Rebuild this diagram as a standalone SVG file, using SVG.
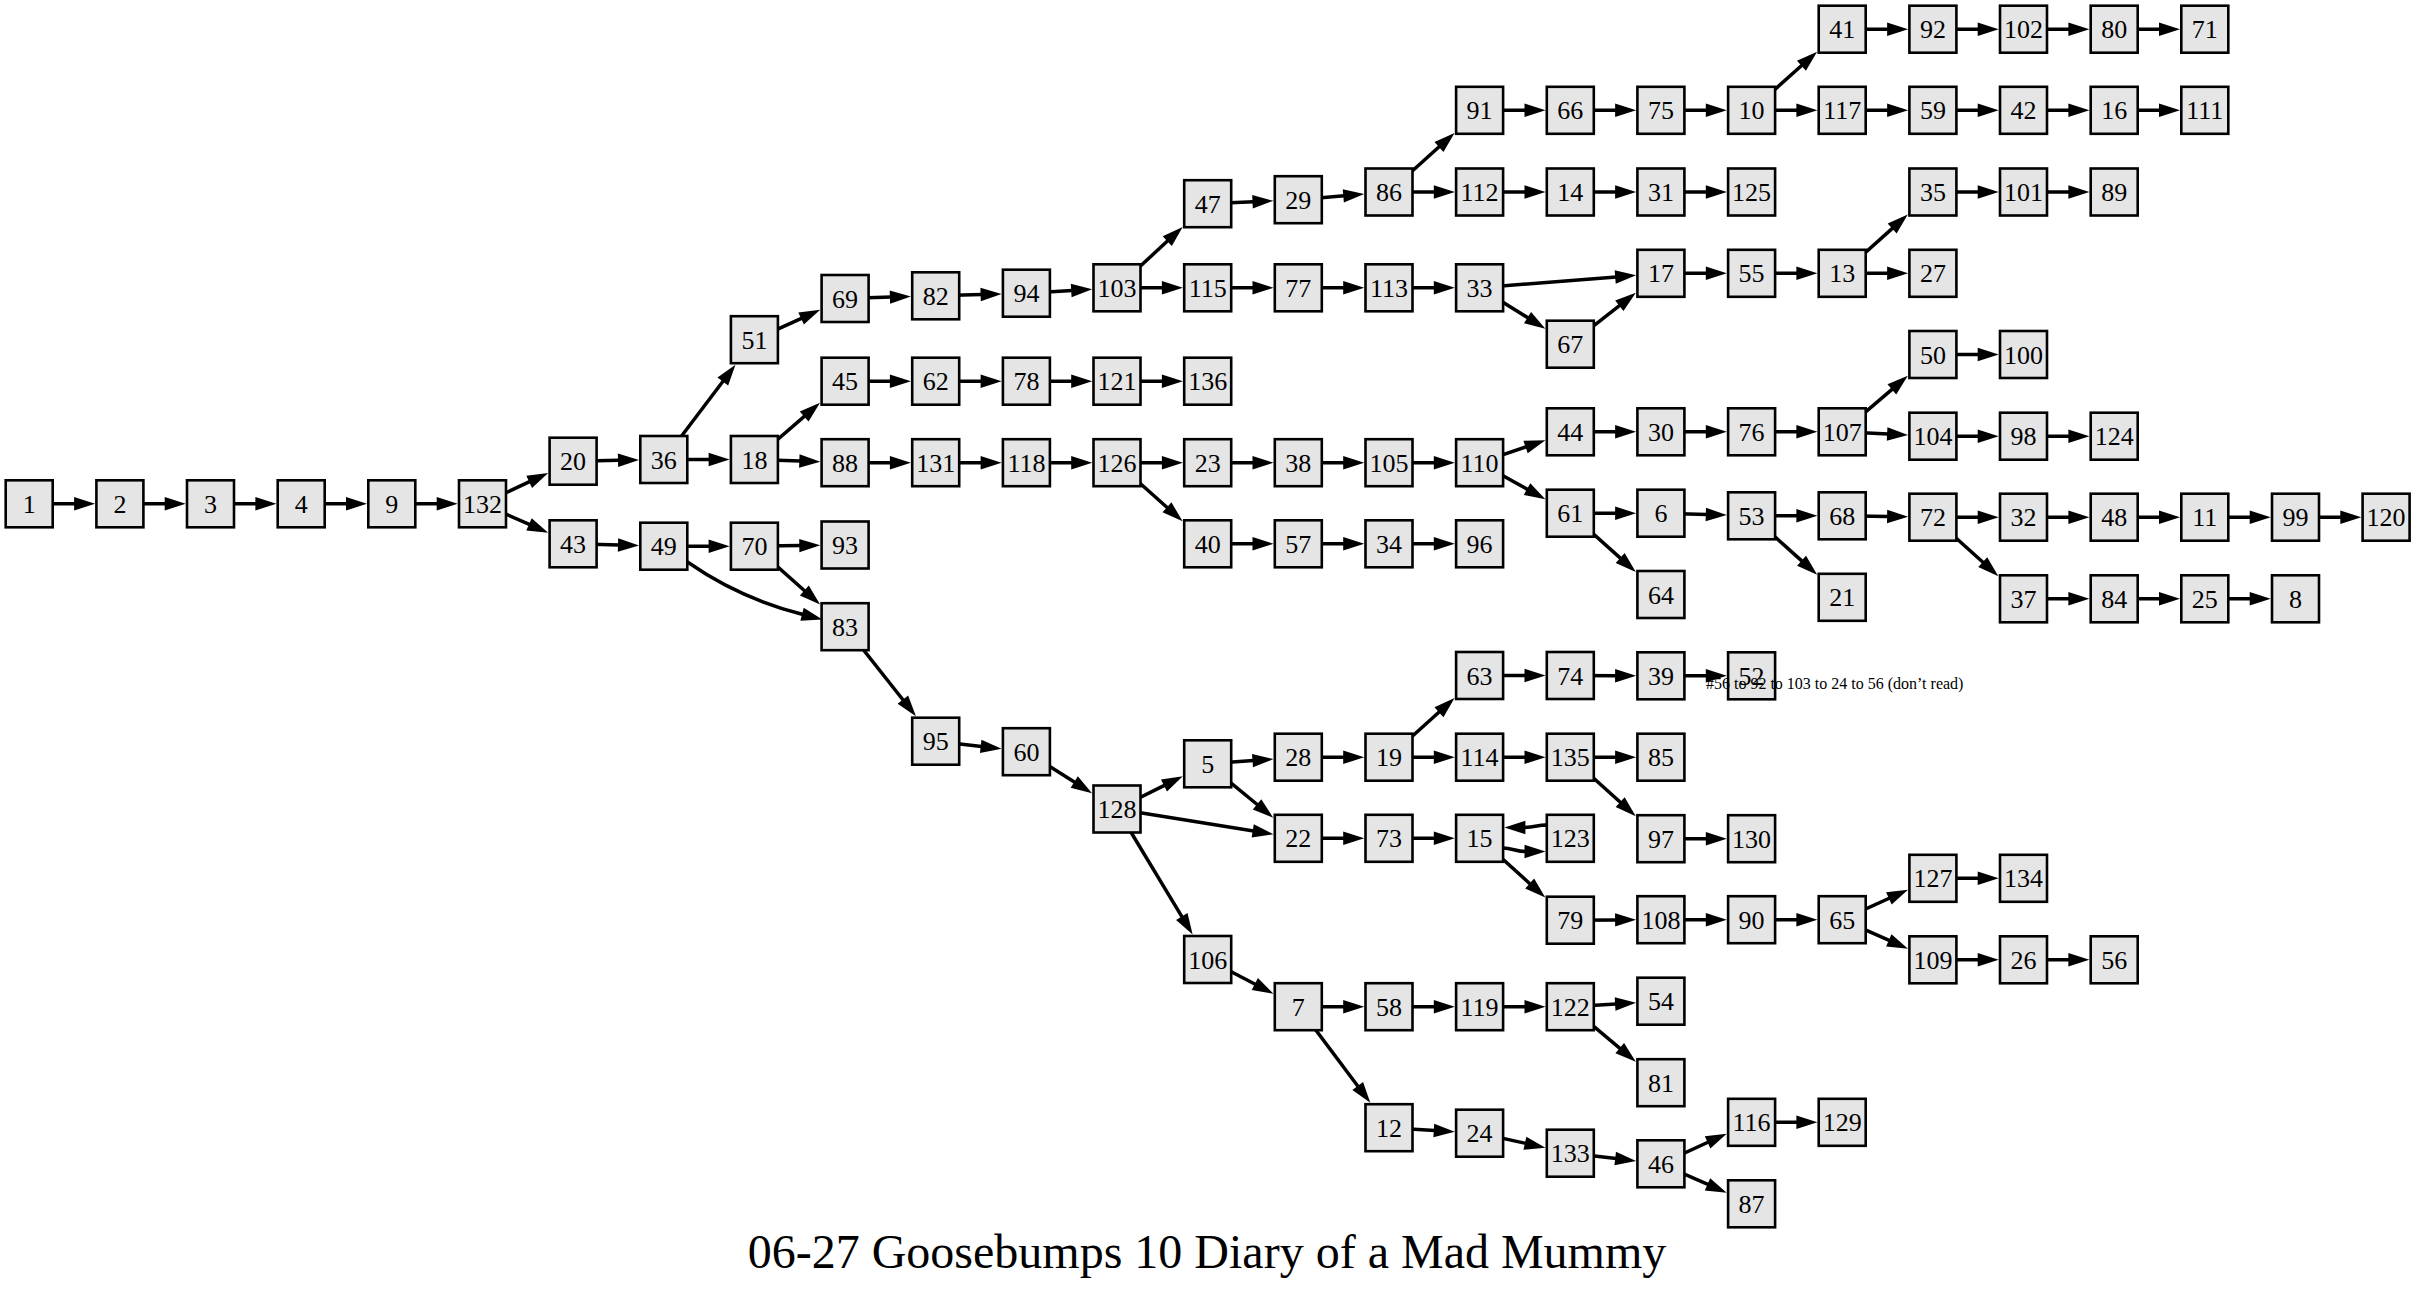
<svg xmlns="http://www.w3.org/2000/svg" width="2416" height="1292" viewBox="0 0 2416 1292">
<style>
.node rect{fill:#e5e5e5;stroke:#000;stroke-width:2.6}
.node text{font-family:"Liberation Serif","Times New Roman",serif;font-size:26px;text-anchor:middle;fill:#000}
.edges path{fill:none;stroke:#000;stroke-width:3.5;marker-end:url(#ah)}
.node text.xl{font-family:"Liberation Serif","Times New Roman",serif;font-size:16px;text-anchor:middle;fill:#000}
.title{font-family:"Liberation Serif","Times New Roman",serif;font-size:48px;text-anchor:middle;fill:#000}
</style>
<defs>
<marker id="ah" markerUnits="userSpaceOnUse" markerWidth="21" markerHeight="13.4" viewBox="0 0 21 13.4" refX="1" refY="6.7" orient="auto" overflow="visible"><path d="M0,0 L21,6.7 L0,13.4 z" fill="#000"/></marker>
</defs>
<rect width="2416" height="1292" fill="#fff"/>
<g id="edges" class="edges">
<path d="M29.2,503.8 L75.1,503.8"/>
<path d="M119.9,503.8 L165.7,503.8"/>
<path d="M210.5,503.8 L256.4,503.8"/>
<path d="M301.2,503.8 L347.0,503.8"/>
<path d="M391.8,503.8 L437.7,503.8"/>
<path d="M482.5,503.8 L530.1,481.4"/>
<path d="M482.5,503.8 L529.9,524.7"/>
<path d="M573.1,461.2 L619.0,460.3"/>
<path d="M573.1,543.8 L619.0,545.0"/>
<path d="M663.8,459.5 L723.4,380.7"/>
<path d="M663.8,459.5 L709.6,459.5"/>
<path d="M663.8,546.2 L709.6,546.2"/>
<path d="M663.8,546.2 L689,563 C722,586 762,604 803,614.5"/>
<path d="M754.4,339.7 L802.0,318.1"/>
<path d="M754.4,459.5 L804.9,415.9"/>
<path d="M754.4,459.5 L800.3,461.1"/>
<path d="M754.4,546.2 L800.3,545.6"/>
<path d="M754.4,546.2 L805.1,591.2"/>
<path d="M845.1,298.5 L890.9,297.1"/>
<path d="M845.1,381.2 L890.9,381.2"/>
<path d="M845.1,462.7 L890.9,462.7"/>
<path d="M845.1,626.7 L903.5,700.5"/>
<path d="M935.7,295.8 L981.6,294.5"/>
<path d="M935.7,381.2 L981.6,381.2"/>
<path d="M935.7,462.7 L981.6,462.7"/>
<path d="M935.7,741.2 L981.7,746.5"/>
<path d="M1026.4,293.2 L1072.2,290.5"/>
<path d="M1026.4,381.2 L1072.2,381.2"/>
<path d="M1026.4,462.7 L1072.2,462.7"/>
<path d="M1026.4,751.7 L1075.1,782.5"/>
<path d="M1117,287.8 L1168.0,240.5"/>
<path d="M1117,287.8 L1162.9,287.8"/>
<path d="M1117,381.2 L1162.9,381.2"/>
<path d="M1117,462.7 L1162.9,462.7"/>
<path d="M1117,462.7 L1167.7,508.0"/>
<path d="M1117,809 L1164.9,785.1"/>
<path d="M1117,809 L1253.7,831.1"/>
<path d="M1117,809 L1182.3,917.4"/>
<path d="M1207.7,203.7 L1253.5,201.7"/>
<path d="M1207.7,287.8 L1253.5,287.8"/>
<path d="M1207.7,462.7 L1253.5,462.7"/>
<path d="M1207.7,543.8 L1253.5,543.8"/>
<path d="M1207.7,763.8 L1253.5,760.5"/>
<path d="M1207.7,763.8 L1257.8,805.0"/>
<path d="M1207.7,959.5 L1255.7,984.5"/>
<path d="M1298.3,199.7 L1344.3,195.8"/>
<path d="M1298.3,287.8 L1344.2,287.8"/>
<path d="M1298.3,462.7 L1344.2,462.7"/>
<path d="M1298.3,543.8 L1344.2,543.8"/>
<path d="M1298.3,757.2 L1344.2,757.2"/>
<path d="M1298.3,838.3 L1344.2,838.3"/>
<path d="M1298.3,1006.7 L1344.2,1006.7"/>
<path d="M1298.3,1006.7 L1358.3,1086.7"/>
<path d="M1389,192 L1439.7,146.3"/>
<path d="M1389,192 L1434.8,192"/>
<path d="M1389,287.8 L1434.8,287.8"/>
<path d="M1389,462.7 L1434.8,462.7"/>
<path d="M1389,543.8 L1434.8,543.8"/>
<path d="M1389,757.2 L1439.7,711.5"/>
<path d="M1389,757.2 L1434.8,757.2"/>
<path d="M1389,838.3 L1434.8,838.3"/>
<path d="M1389,1006.7 L1434.8,1006.7"/>
<path d="M1389,1127.7 L1434.8,1130.5"/>
<path d="M1479.6,110.3 L1525.5,110.3"/>
<path d="M1479.6,192 L1525.5,192"/>
<path d="M1479.6,287.8 L1616.2,276.9"/>
<path d="M1479.6,287.8 L1528.4,318.1"/>
<path d="M1479.6,462.7 L1526.5,446.7"/>
<path d="M1479.6,462.7 L1527.9,489.6"/>
<path d="M1479.6,675.5 L1525.5,675.5"/>
<path d="M1479.6,757.2 L1525.5,757.2"/>
<path d="M1479.6,848 L1503,848 C1512,848 1516,851.5 1525.5,851.5"/>
<path d="M1479.6,838.3 L1530.4,884.2"/>
<path d="M1479.6,1006.7 L1525.5,1006.7"/>
<path d="M1479.6,1133.2 L1525.9,1143.4"/>
<path d="M1570.3,110.3 L1616.1,110.3"/>
<path d="M1570.3,192 L1616.1,192"/>
<path d="M1570.3,344.2 L1620.1,305.2"/>
<path d="M1570.3,431.8 L1616.1,431.8"/>
<path d="M1570.3,513.2 L1616.1,513.2"/>
<path d="M1570.3,513.2 L1620.9,558.6"/>
<path d="M1570.3,675.5 L1616.1,675.7"/>
<path d="M1570.3,757.2 L1616.1,757.2"/>
<path d="M1570.3,757.2 L1620.9,802.8"/>
<path d="M1570.3,826 L1545,825 C1538,825 1535,827.5 1524.4,827.5"/>
<path d="M1570.3,920.2 L1616.1,919.9"/>
<path d="M1570.3,1006.7 L1616.1,1003.9"/>
<path d="M1570.3,1006.7 L1620.5,1048.8"/>
<path d="M1570.3,1153.2 L1616.2,1158.6"/>
<path d="M1660.9,110.3 L1706.8,110.3"/>
<path d="M1660.9,192 L1706.8,192"/>
<path d="M1660.9,273.3 L1706.8,273.3"/>
<path d="M1660.9,431.8 L1706.8,431.8"/>
<path d="M1660.9,513.2 L1706.8,514.5"/>
<path d="M1660.9,675.8 L1706.8,675.8"/>
<path d="M1660.9,838.7 L1706.8,838.7"/>
<path d="M1660.9,919.7 L1706.8,919.7"/>
<path d="M1660.9,1163.8 L1708.5,1142.0"/>
<path d="M1660.9,1163.8 L1708.4,1184.7"/>
<path d="M1751.6,110.3 L1802.2,65.0"/>
<path d="M1751.6,110.3 L1797.4,110.3"/>
<path d="M1751.6,273.3 L1797.4,273.3"/>
<path d="M1751.6,431.8 L1797.4,431.8"/>
<path d="M1751.6,515.8 L1797.4,515.8"/>
<path d="M1751.6,515.8 L1802.3,561.4"/>
<path d="M1751.6,919.7 L1797.4,919.7"/>
<path d="M1751.6,1122.3 L1797.4,1122.3"/>
<path d="M1842.2,29.2 L1888.1,29.2"/>
<path d="M1842.2,110.3 L1888.1,110.3"/>
<path d="M1842.2,273.3 L1892.9,227.9"/>
<path d="M1842.2,273.3 L1888.1,273.3"/>
<path d="M1842.2,431.8 L1892.6,388.8"/>
<path d="M1842.2,431.8 L1888.1,434.0"/>
<path d="M1842.2,515.8 L1888.1,516.5"/>
<path d="M1842.2,919.7 L1889.8,898.0"/>
<path d="M1842.2,919.7 L1889.7,940.7"/>
<path d="M1932.9,29.2 L1978.7,29.2"/>
<path d="M1932.9,110.3 L1978.7,110.3"/>
<path d="M1932.9,192 L1978.7,192"/>
<path d="M1932.9,354.5 L1978.7,354.5"/>
<path d="M1932.9,436.2 L1978.7,436.2"/>
<path d="M1932.9,517.2 L1978.7,517.2"/>
<path d="M1932.9,517.2 L1983.5,562.8"/>
<path d="M1932.9,878.3 L1978.7,878.3"/>
<path d="M1932.9,959.8 L1978.7,959.8"/>
<path d="M2023.5,29.2 L2069.4,29.2"/>
<path d="M2023.5,110.3 L2069.4,110.3"/>
<path d="M2023.5,192 L2069.4,192"/>
<path d="M2023.5,436.2 L2069.4,436.2"/>
<path d="M2023.5,517.2 L2069.4,517.2"/>
<path d="M2023.5,598.8 L2069.4,598.8"/>
<path d="M2023.5,959.8 L2069.4,959.8"/>
<path d="M2114.2,29.2 L2160.0,29.2"/>
<path d="M2114.2,110.3 L2160.0,110.3"/>
<path d="M2114.2,517.2 L2160.0,517.2"/>
<path d="M2114.2,598.8 L2160.0,598.8"/>
<path d="M2204.8,517.2 L2250.7,517.2"/>
<path d="M2204.8,598.8 L2250.7,598.8"/>
<path d="M2295.5,517.2 L2341.3,517.2"/>
</g>
<g id="nodes">
<g id="n1" class="node" transform="translate(29.2,503.8)"><rect x="-23.5" y="-23.5" width="47" height="47"/><text y="9">1</text></g>
<g id="n2" class="node" transform="translate(119.9,503.8)"><rect x="-23.5" y="-23.5" width="47" height="47"/><text y="9">2</text></g>
<g id="n3" class="node" transform="translate(210.5,503.8)"><rect x="-23.5" y="-23.5" width="47" height="47"/><text y="9">3</text></g>
<g id="n4" class="node" transform="translate(301.2,503.8)"><rect x="-23.5" y="-23.5" width="47" height="47"/><text y="9">4</text></g>
<g id="n9" class="node" transform="translate(391.8,503.8)"><rect x="-23.5" y="-23.5" width="47" height="47"/><text y="9">9</text></g>
<g id="n132" class="node" transform="translate(482.5,503.8)"><rect x="-23.5" y="-23.5" width="47" height="47"/><text y="9">132</text></g>
<g id="n20" class="node" transform="translate(573.1,461.2)"><rect x="-23.5" y="-23.5" width="47" height="47"/><text y="9">20</text></g>
<g id="n43" class="node" transform="translate(573.1,543.8)"><rect x="-23.5" y="-23.5" width="47" height="47"/><text y="9">43</text></g>
<g id="n36" class="node" transform="translate(663.8,459.5)"><rect x="-23.5" y="-23.5" width="47" height="47"/><text y="9">36</text></g>
<g id="n49" class="node" transform="translate(663.8,546.2)"><rect x="-23.5" y="-23.5" width="47" height="47"/><text y="9">49</text></g>
<g id="n51" class="node" transform="translate(754.4,339.7)"><rect x="-23.5" y="-23.5" width="47" height="47"/><text y="9">51</text></g>
<g id="n18" class="node" transform="translate(754.4,459.5)"><rect x="-23.5" y="-23.5" width="47" height="47"/><text y="9">18</text></g>
<g id="n70" class="node" transform="translate(754.4,546.2)"><rect x="-23.5" y="-23.5" width="47" height="47"/><text y="9">70</text></g>
<g id="n69" class="node" transform="translate(845.1,298.5)"><rect x="-23.5" y="-23.5" width="47" height="47"/><text y="9">69</text></g>
<g id="n45" class="node" transform="translate(845.1,381.2)"><rect x="-23.5" y="-23.5" width="47" height="47"/><text y="9">45</text></g>
<g id="n88" class="node" transform="translate(845.1,462.7)"><rect x="-23.5" y="-23.5" width="47" height="47"/><text y="9">88</text></g>
<g id="n93" class="node" transform="translate(845.1,545)"><rect x="-23.5" y="-23.5" width="47" height="47"/><text y="9">93</text></g>
<g id="n83" class="node" transform="translate(845.1,626.7)"><rect x="-23.5" y="-23.5" width="47" height="47"/><text y="9">83</text></g>
<g id="n82" class="node" transform="translate(935.7,295.8)"><rect x="-23.5" y="-23.5" width="47" height="47"/><text y="9">82</text></g>
<g id="n62" class="node" transform="translate(935.7,381.2)"><rect x="-23.5" y="-23.5" width="47" height="47"/><text y="9">62</text></g>
<g id="n131" class="node" transform="translate(935.7,462.7)"><rect x="-23.5" y="-23.5" width="47" height="47"/><text y="9">131</text></g>
<g id="n95" class="node" transform="translate(935.7,741.2)"><rect x="-23.5" y="-23.5" width="47" height="47"/><text y="9">95</text></g>
<g id="n94" class="node" transform="translate(1026.4,293.2)"><rect x="-23.5" y="-23.5" width="47" height="47"/><text y="9">94</text></g>
<g id="n78" class="node" transform="translate(1026.4,381.2)"><rect x="-23.5" y="-23.5" width="47" height="47"/><text y="9">78</text></g>
<g id="n118" class="node" transform="translate(1026.4,462.7)"><rect x="-23.5" y="-23.5" width="47" height="47"/><text y="9">118</text></g>
<g id="n60" class="node" transform="translate(1026.4,751.7)"><rect x="-23.5" y="-23.5" width="47" height="47"/><text y="9">60</text></g>
<g id="n103" class="node" transform="translate(1117,287.8)"><rect x="-23.5" y="-23.5" width="47" height="47"/><text y="9">103</text></g>
<g id="n121" class="node" transform="translate(1117,381.2)"><rect x="-23.5" y="-23.5" width="47" height="47"/><text y="9">121</text></g>
<g id="n126" class="node" transform="translate(1117,462.7)"><rect x="-23.5" y="-23.5" width="47" height="47"/><text y="9">126</text></g>
<g id="n128" class="node" transform="translate(1117,809)"><rect x="-23.5" y="-23.5" width="47" height="47"/><text y="9">128</text></g>
<g id="n47" class="node" transform="translate(1207.7,203.7)"><rect x="-23.5" y="-23.5" width="47" height="47"/><text y="9">47</text></g>
<g id="n115" class="node" transform="translate(1207.7,287.8)"><rect x="-23.5" y="-23.5" width="47" height="47"/><text y="9">115</text></g>
<g id="n136" class="node" transform="translate(1207.7,381.2)"><rect x="-23.5" y="-23.5" width="47" height="47"/><text y="9">136</text></g>
<g id="n23" class="node" transform="translate(1207.7,462.7)"><rect x="-23.5" y="-23.5" width="47" height="47"/><text y="9">23</text></g>
<g id="n40" class="node" transform="translate(1207.7,543.8)"><rect x="-23.5" y="-23.5" width="47" height="47"/><text y="9">40</text></g>
<g id="n5" class="node" transform="translate(1207.7,763.8)"><rect x="-23.5" y="-23.5" width="47" height="47"/><text y="9">5</text></g>
<g id="n106" class="node" transform="translate(1207.7,959.5)"><rect x="-23.5" y="-23.5" width="47" height="47"/><text y="9">106</text></g>
<g id="n29" class="node" transform="translate(1298.3,199.7)"><rect x="-23.5" y="-23.5" width="47" height="47"/><text y="9">29</text></g>
<g id="n77" class="node" transform="translate(1298.3,287.8)"><rect x="-23.5" y="-23.5" width="47" height="47"/><text y="9">77</text></g>
<g id="n38" class="node" transform="translate(1298.3,462.7)"><rect x="-23.5" y="-23.5" width="47" height="47"/><text y="9">38</text></g>
<g id="n57" class="node" transform="translate(1298.3,543.8)"><rect x="-23.5" y="-23.5" width="47" height="47"/><text y="9">57</text></g>
<g id="n28" class="node" transform="translate(1298.3,757.2)"><rect x="-23.5" y="-23.5" width="47" height="47"/><text y="9">28</text></g>
<g id="n22" class="node" transform="translate(1298.3,838.3)"><rect x="-23.5" y="-23.5" width="47" height="47"/><text y="9">22</text></g>
<g id="n7" class="node" transform="translate(1298.3,1006.7)"><rect x="-23.5" y="-23.5" width="47" height="47"/><text y="9">7</text></g>
<g id="n86" class="node" transform="translate(1389,192)"><rect x="-23.5" y="-23.5" width="47" height="47"/><text y="9">86</text></g>
<g id="n113" class="node" transform="translate(1389,287.8)"><rect x="-23.5" y="-23.5" width="47" height="47"/><text y="9">113</text></g>
<g id="n105" class="node" transform="translate(1389,462.7)"><rect x="-23.5" y="-23.5" width="47" height="47"/><text y="9">105</text></g>
<g id="n34" class="node" transform="translate(1389,543.8)"><rect x="-23.5" y="-23.5" width="47" height="47"/><text y="9">34</text></g>
<g id="n19" class="node" transform="translate(1389,757.2)"><rect x="-23.5" y="-23.5" width="47" height="47"/><text y="9">19</text></g>
<g id="n73" class="node" transform="translate(1389,838.3)"><rect x="-23.5" y="-23.5" width="47" height="47"/><text y="9">73</text></g>
<g id="n58" class="node" transform="translate(1389,1006.7)"><rect x="-23.5" y="-23.5" width="47" height="47"/><text y="9">58</text></g>
<g id="n12" class="node" transform="translate(1389,1127.7)"><rect x="-23.5" y="-23.5" width="47" height="47"/><text y="9">12</text></g>
<g id="n91" class="node" transform="translate(1479.6,110.3)"><rect x="-23.5" y="-23.5" width="47" height="47"/><text y="9">91</text></g>
<g id="n112" class="node" transform="translate(1479.6,192)"><rect x="-23.5" y="-23.5" width="47" height="47"/><text y="9">112</text></g>
<g id="n33" class="node" transform="translate(1479.6,287.8)"><rect x="-23.5" y="-23.5" width="47" height="47"/><text y="9">33</text></g>
<g id="n110" class="node" transform="translate(1479.6,462.7)"><rect x="-23.5" y="-23.5" width="47" height="47"/><text y="9">110</text></g>
<g id="n96" class="node" transform="translate(1479.6,543.8)"><rect x="-23.5" y="-23.5" width="47" height="47"/><text y="9">96</text></g>
<g id="n63" class="node" transform="translate(1479.6,675.5)"><rect x="-23.5" y="-23.5" width="47" height="47"/><text y="9">63</text></g>
<g id="n114" class="node" transform="translate(1479.6,757.2)"><rect x="-23.5" y="-23.5" width="47" height="47"/><text y="9">114</text></g>
<g id="n15" class="node" transform="translate(1479.6,838.3)"><rect x="-23.5" y="-23.5" width="47" height="47"/><text y="9">15</text></g>
<g id="n119" class="node" transform="translate(1479.6,1006.7)"><rect x="-23.5" y="-23.5" width="47" height="47"/><text y="9">119</text></g>
<g id="n24" class="node" transform="translate(1479.6,1133.2)"><rect x="-23.5" y="-23.5" width="47" height="47"/><text y="9">24</text></g>
<g id="n66" class="node" transform="translate(1570.3,110.3)"><rect x="-23.5" y="-23.5" width="47" height="47"/><text y="9">66</text></g>
<g id="n14" class="node" transform="translate(1570.3,192)"><rect x="-23.5" y="-23.5" width="47" height="47"/><text y="9">14</text></g>
<g id="n67" class="node" transform="translate(1570.3,344.2)"><rect x="-23.5" y="-23.5" width="47" height="47"/><text y="9">67</text></g>
<g id="n44" class="node" transform="translate(1570.3,431.8)"><rect x="-23.5" y="-23.5" width="47" height="47"/><text y="9">44</text></g>
<g id="n61" class="node" transform="translate(1570.3,513.2)"><rect x="-23.5" y="-23.5" width="47" height="47"/><text y="9">61</text></g>
<g id="n74" class="node" transform="translate(1570.3,675.5)"><rect x="-23.5" y="-23.5" width="47" height="47"/><text y="9">74</text></g>
<g id="n135" class="node" transform="translate(1570.3,757.2)"><rect x="-23.5" y="-23.5" width="47" height="47"/><text y="9">135</text></g>
<g id="n123" class="node" transform="translate(1570.3,838.3)"><rect x="-23.5" y="-23.5" width="47" height="47"/><text y="9">123</text></g>
<g id="n79" class="node" transform="translate(1570.3,920.2)"><rect x="-23.5" y="-23.5" width="47" height="47"/><text y="9">79</text></g>
<g id="n122" class="node" transform="translate(1570.3,1006.7)"><rect x="-23.5" y="-23.5" width="47" height="47"/><text y="9">122</text></g>
<g id="n133" class="node" transform="translate(1570.3,1153.2)"><rect x="-23.5" y="-23.5" width="47" height="47"/><text y="9">133</text></g>
<g id="n75" class="node" transform="translate(1660.9,110.3)"><rect x="-23.5" y="-23.5" width="47" height="47"/><text y="9">75</text></g>
<g id="n31" class="node" transform="translate(1660.9,192)"><rect x="-23.5" y="-23.5" width="47" height="47"/><text y="9">31</text></g>
<g id="n17" class="node" transform="translate(1660.9,273.3)"><rect x="-23.5" y="-23.5" width="47" height="47"/><text y="9">17</text></g>
<g id="n30" class="node" transform="translate(1660.9,431.8)"><rect x="-23.5" y="-23.5" width="47" height="47"/><text y="9">30</text></g>
<g id="n6" class="node" transform="translate(1660.9,513.2)"><rect x="-23.5" y="-23.5" width="47" height="47"/><text y="9">6</text></g>
<g id="n64" class="node" transform="translate(1660.9,594.5)"><rect x="-23.5" y="-23.5" width="47" height="47"/><text y="9">64</text></g>
<g id="n39" class="node" transform="translate(1660.9,675.8)"><rect x="-23.5" y="-23.5" width="47" height="47"/><text y="9">39</text></g>
<g id="n85" class="node" transform="translate(1660.9,757.2)"><rect x="-23.5" y="-23.5" width="47" height="47"/><text y="9">85</text></g>
<g id="n97" class="node" transform="translate(1660.9,838.7)"><rect x="-23.5" y="-23.5" width="47" height="47"/><text y="9">97</text></g>
<g id="n108" class="node" transform="translate(1660.9,919.7)"><rect x="-23.5" y="-23.5" width="47" height="47"/><text y="9">108</text></g>
<g id="n54" class="node" transform="translate(1660.9,1001.2)"><rect x="-23.5" y="-23.5" width="47" height="47"/><text y="9">54</text></g>
<g id="n81" class="node" transform="translate(1660.9,1082.7)"><rect x="-23.5" y="-23.5" width="47" height="47"/><text y="9">81</text></g>
<g id="n46" class="node" transform="translate(1660.9,1163.8)"><rect x="-23.5" y="-23.5" width="47" height="47"/><text y="9">46</text></g>
<g id="n10" class="node" transform="translate(1751.6,110.3)"><rect x="-23.5" y="-23.5" width="47" height="47"/><text y="9">10</text></g>
<g id="n125" class="node" transform="translate(1751.6,192)"><rect x="-23.5" y="-23.5" width="47" height="47"/><text y="9">125</text></g>
<g id="n55" class="node" transform="translate(1751.6,273.3)"><rect x="-23.5" y="-23.5" width="47" height="47"/><text y="9">55</text></g>
<g id="n76" class="node" transform="translate(1751.6,431.8)"><rect x="-23.5" y="-23.5" width="47" height="47"/><text y="9">76</text></g>
<g id="n53" class="node" transform="translate(1751.6,515.8)"><rect x="-23.5" y="-23.5" width="47" height="47"/><text y="9">53</text></g>
<g id="n52" class="node" transform="translate(1751.6,675.8)"><rect x="-23.5" y="-23.5" width="47" height="47"/><text y="9">52</text><text class="xl" x="83.1" y="13.2">#56 to 92 to 103 to 24 to 56 (don’t read)</text></g>
<g id="n130" class="node" transform="translate(1751.6,838.7)"><rect x="-23.5" y="-23.5" width="47" height="47"/><text y="9">130</text></g>
<g id="n90" class="node" transform="translate(1751.6,919.7)"><rect x="-23.5" y="-23.5" width="47" height="47"/><text y="9">90</text></g>
<g id="n116" class="node" transform="translate(1751.6,1122.3)"><rect x="-23.5" y="-23.5" width="47" height="47"/><text y="9">116</text></g>
<g id="n87" class="node" transform="translate(1751.6,1203.8)"><rect x="-23.5" y="-23.5" width="47" height="47"/><text y="9">87</text></g>
<g id="n41" class="node" transform="translate(1842.2,29.2)"><rect x="-23.5" y="-23.5" width="47" height="47"/><text y="9">41</text></g>
<g id="n117" class="node" transform="translate(1842.2,110.3)"><rect x="-23.5" y="-23.5" width="47" height="47"/><text y="9">117</text></g>
<g id="n13" class="node" transform="translate(1842.2,273.3)"><rect x="-23.5" y="-23.5" width="47" height="47"/><text y="9">13</text></g>
<g id="n107" class="node" transform="translate(1842.2,431.8)"><rect x="-23.5" y="-23.5" width="47" height="47"/><text y="9">107</text></g>
<g id="n68" class="node" transform="translate(1842.2,515.8)"><rect x="-23.5" y="-23.5" width="47" height="47"/><text y="9">68</text></g>
<g id="n21" class="node" transform="translate(1842.2,597.3)"><rect x="-23.5" y="-23.5" width="47" height="47"/><text y="9">21</text></g>
<g id="n65" class="node" transform="translate(1842.2,919.7)"><rect x="-23.5" y="-23.5" width="47" height="47"/><text y="9">65</text></g>
<g id="n129" class="node" transform="translate(1842.2,1122.3)"><rect x="-23.5" y="-23.5" width="47" height="47"/><text y="9">129</text></g>
<g id="n92" class="node" transform="translate(1932.9,29.2)"><rect x="-23.5" y="-23.5" width="47" height="47"/><text y="9">92</text></g>
<g id="n59" class="node" transform="translate(1932.9,110.3)"><rect x="-23.5" y="-23.5" width="47" height="47"/><text y="9">59</text></g>
<g id="n35" class="node" transform="translate(1932.9,192)"><rect x="-23.5" y="-23.5" width="47" height="47"/><text y="9">35</text></g>
<g id="n27" class="node" transform="translate(1932.9,273.3)"><rect x="-23.5" y="-23.5" width="47" height="47"/><text y="9">27</text></g>
<g id="n50" class="node" transform="translate(1932.9,354.5)"><rect x="-23.5" y="-23.5" width="47" height="47"/><text y="9">50</text></g>
<g id="n104" class="node" transform="translate(1932.9,436.2)"><rect x="-23.5" y="-23.5" width="47" height="47"/><text y="9">104</text></g>
<g id="n72" class="node" transform="translate(1932.9,517.2)"><rect x="-23.5" y="-23.5" width="47" height="47"/><text y="9">72</text></g>
<g id="n127" class="node" transform="translate(1932.9,878.3)"><rect x="-23.5" y="-23.5" width="47" height="47"/><text y="9">127</text></g>
<g id="n109" class="node" transform="translate(1932.9,959.8)"><rect x="-23.5" y="-23.5" width="47" height="47"/><text y="9">109</text></g>
<g id="n102" class="node" transform="translate(2023.5,29.2)"><rect x="-23.5" y="-23.5" width="47" height="47"/><text y="9">102</text></g>
<g id="n42" class="node" transform="translate(2023.5,110.3)"><rect x="-23.5" y="-23.5" width="47" height="47"/><text y="9">42</text></g>
<g id="n101" class="node" transform="translate(2023.5,192)"><rect x="-23.5" y="-23.5" width="47" height="47"/><text y="9">101</text></g>
<g id="n100" class="node" transform="translate(2023.5,354.5)"><rect x="-23.5" y="-23.5" width="47" height="47"/><text y="9">100</text></g>
<g id="n98" class="node" transform="translate(2023.5,436.2)"><rect x="-23.5" y="-23.5" width="47" height="47"/><text y="9">98</text></g>
<g id="n32" class="node" transform="translate(2023.5,517.2)"><rect x="-23.5" y="-23.5" width="47" height="47"/><text y="9">32</text></g>
<g id="n37" class="node" transform="translate(2023.5,598.8)"><rect x="-23.5" y="-23.5" width="47" height="47"/><text y="9">37</text></g>
<g id="n134" class="node" transform="translate(2023.5,878.3)"><rect x="-23.5" y="-23.5" width="47" height="47"/><text y="9">134</text></g>
<g id="n26" class="node" transform="translate(2023.5,959.8)"><rect x="-23.5" y="-23.5" width="47" height="47"/><text y="9">26</text></g>
<g id="n80" class="node" transform="translate(2114.2,29.2)"><rect x="-23.5" y="-23.5" width="47" height="47"/><text y="9">80</text></g>
<g id="n16" class="node" transform="translate(2114.2,110.3)"><rect x="-23.5" y="-23.5" width="47" height="47"/><text y="9">16</text></g>
<g id="n89" class="node" transform="translate(2114.2,192)"><rect x="-23.5" y="-23.5" width="47" height="47"/><text y="9">89</text></g>
<g id="n124" class="node" transform="translate(2114.2,436.2)"><rect x="-23.5" y="-23.5" width="47" height="47"/><text y="9">124</text></g>
<g id="n48" class="node" transform="translate(2114.2,517.2)"><rect x="-23.5" y="-23.5" width="47" height="47"/><text y="9">48</text></g>
<g id="n84" class="node" transform="translate(2114.2,598.8)"><rect x="-23.5" y="-23.5" width="47" height="47"/><text y="9">84</text></g>
<g id="n56" class="node" transform="translate(2114.2,959.8)"><rect x="-23.5" y="-23.5" width="47" height="47"/><text y="9">56</text></g>
<g id="n71" class="node" transform="translate(2204.8,29.2)"><rect x="-23.5" y="-23.5" width="47" height="47"/><text y="9">71</text></g>
<g id="n111" class="node" transform="translate(2204.8,110.3)"><rect x="-23.5" y="-23.5" width="47" height="47"/><text y="9">111</text></g>
<g id="n11" class="node" transform="translate(2204.8,517.2)"><rect x="-23.5" y="-23.5" width="47" height="47"/><text y="9">11</text></g>
<g id="n25" class="node" transform="translate(2204.8,598.8)"><rect x="-23.5" y="-23.5" width="47" height="47"/><text y="9">25</text></g>
<g id="n99" class="node" transform="translate(2295.5,517.2)"><rect x="-23.5" y="-23.5" width="47" height="47"/><text y="9">99</text></g>
<g id="n8" class="node" transform="translate(2295.5,598.8)"><rect x="-23.5" y="-23.5" width="47" height="47"/><text y="9">8</text></g>
<g id="n120" class="node" transform="translate(2386.1,517.2)"><rect x="-23.5" y="-23.5" width="47" height="47"/><text y="9">120</text></g>
</g>
<text class="title" x="1207" y="1268">06-27 Goosebumps 10 Diary of a Mad Mummy</text>
</svg>
